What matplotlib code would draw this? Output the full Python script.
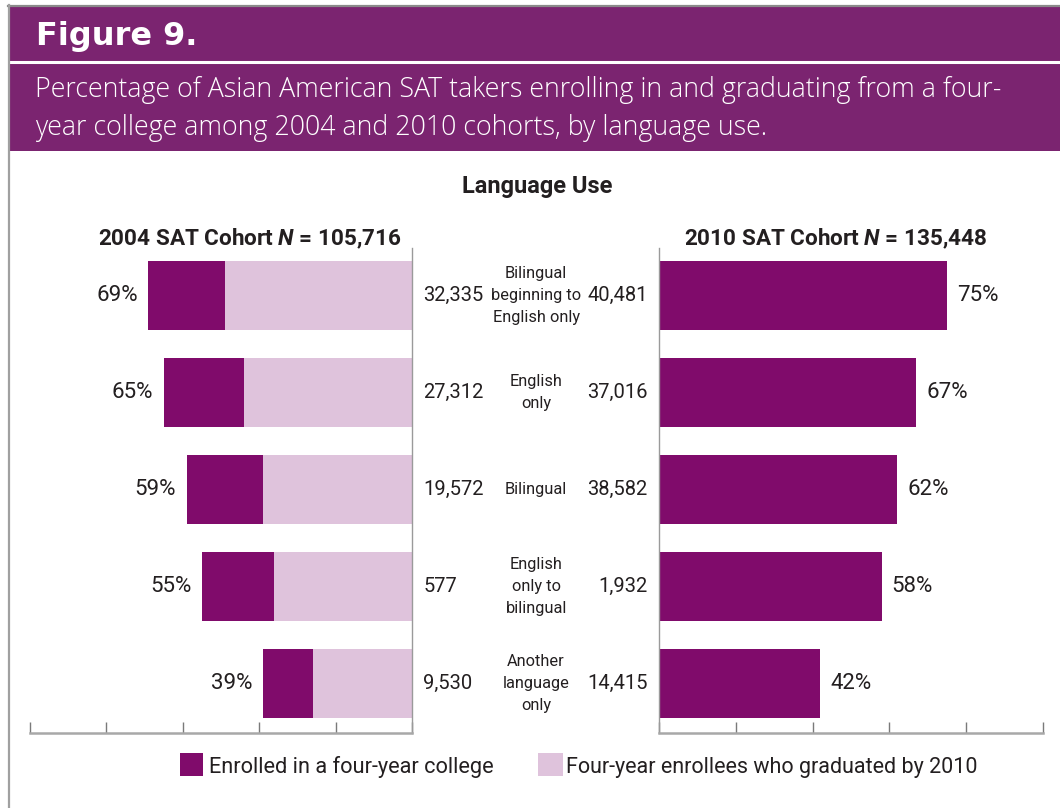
import matplotlib.pyplot as plt
from matplotlib.patches import Rectangle
from matplotlib.lines import Line2D

# data
languages = ["Bilingual\nbeginning to\nEnglish only", "English\nonly", "Bilingual",
             "English\nonly to\nbilingual", "Another\nlanguage\nonly"]
enrolled_2004 = [69, 65, 59, 55, 39]
graduated_2004 = [49, 44, 39, 36, 26]
n_2004 = ["32,335", "27,312", "19,572", "577", "9,530"]
enrolled_2010 = [75, 67, 62, 58, 42]
n_2010 = ["40,481", "37,016", "38,582", "1,932", "14,415"]
ticks = [0, 20, 40, 60, 80, 100]

W, H = 1060, 808
DARK = "#800b6b"
LIGHT = "#dfc3dc"
HEAD = "#7b2470"
INK = "#231f20"
NARROW = ["Roboto", "DejaVu Sans"]

plt.rcParams["mathtext.fontset"] = "custom"
plt.rcParams["mathtext.bfit"] = "Roboto:bold:italic"
plt.rcParams["mathtext.it"] = "Roboto:bold:italic"

fig = plt.figure(figsize=(W / 100, H / 100), dpi=100)


def px(x, y):
    return x / W, 1 - y / H


def box(x0, y0, x1, y1):
    return [x0 / W, 1 - y1 / H, (x1 - x0) / W, (y1 - y0) / H]


# frame and header band
fig.patches.append(Rectangle(px(9, 151), (W - 9) / W, 145 / H, transform=fig.transFigure,
                             facecolor=HEAD, edgecolor="none"))
fig.add_artist(Line2D([9 / W, 1], [1 - 61.5 / H] * 2, color="white", lw=2.2))
fig.add_artist(Line2D([8 / W, 1], [1 - 5.5 / H] * 2, color="#8a8a8a", lw=1.6))
fig.add_artist(Line2D([8.5 / W] * 2, [0, 1 - 5 / H], color="#a0a0a0", lw=1.6))

fig.text(*px(36, 37), "Figure 9.", color="white", fontsize=23, fontweight="bold",
         family="DejaVu Sans", va="center", ha="left")
fig.text(*px(35, 90), "Percentage of Asian American SAT takers enrolling in and graduating from a four-",
         color="white", fontsize=19.3, family="Open Sans", fontweight="light", va="center", ha="left")
fig.text(*px(35, 128), "year college among 2004 and 2010 cohorts, by language use.",
         color="white", fontsize=19.3, family="Open Sans", fontweight="light", va="center", ha="left")

rows = list(range(len(languages)))
ylim = (4 + 49.5 / 97, -47.5 / 97)
bar_h = 0.71

# 2004 cohort (left, mirrored)
axl = fig.add_axes(box(30, 248, 412, 733))
axl.barh(rows, graduated_2004, height=bar_h, color=LIGHT)
axl.barh(rows, [e - g for e, g in zip(enrolled_2004, graduated_2004)], left=graduated_2004,
         height=bar_h, color=DARK)
axl.set_xlim(100, 0)

# 2010 cohort (right)
axr = fig.add_axes(box(659, 248, 1043, 733))
axr.barh(rows, enrolled_2010, height=bar_h, color=DARK)
axr.set_xlim(0, 100)

for ax, side in [(axl, "right"), (axr, "left")]:
    ax.set_ylim(*ylim)
    ax.set_facecolor("none")
    for s in ["top", "left", "right", "bottom"]:
        ax.spines[s].set_visible(s in ("bottom", side))
    ax.spines["bottom"].set_color("#a8a8a8")
    ax.spines["bottom"].set_linewidth(1.8)
    ax.spines[side].set_color("#9a9a9a")
    ax.spines[side].set_linewidth(1.0)
    ax.set_xticks(ticks)
    ax.set_yticks([])
    ax.tick_params(axis="x", direction="in", length=8, width=1.0, color="#7a7a7a",
                   labelbottom=False)

for i in rows:
    axl.text(enrolled_2004[i] + 2.8, i, f"{enrolled_2004[i]}%", ha="right", va="center",
             fontsize=16, color=INK, family=NARROW)
    axl.text(-3.0, i, n_2004[i], ha="left", va="center", fontsize=14.5, color=INK, family=NARROW)
    axr.text(enrolled_2010[i] + 2.6, i, f"{enrolled_2010[i]}%", ha="left", va="center",
             fontsize=16, color=INK, family=NARROW)
    axr.text(-2.9, i, n_2010[i], ha="right", va="center", fontsize=14.5, color=INK, family=NARROW)
    axr.text(-32.0, i, languages[i], ha="center", va="center", fontsize=11.8, color=INK,
             family=NARROW, linespacing=1.6)

fig.text(*px(537, 187), "Language Use", ha="center", va="center", fontsize=17,
         fontweight="bold", color=INK, family=NARROW)
fig.text(*px(250, 239), r"2004 SAT Cohort $\mathit{N}$ = 105,716", ha="center", va="center",
         fontsize=16.2, fontweight="bold", color=INK, family=NARROW)
fig.text(*px(836, 239), r"2010 SAT Cohort $\mathit{N}$ = 135,448", ha="center", va="center",
         fontsize=16.2, fontweight="bold", color=INK, family=NARROW)

# legend
fig.patches.append(Rectangle(px(180, 776), 23 / W, 23 / H, transform=fig.transFigure,
                             facecolor=DARK, edgecolor="none"))
fig.patches.append(Rectangle(px(538, 776), 25 / W, 23 / H, transform=fig.transFigure,
                             facecolor=LIGHT, edgecolor="none"))
fig.text(*px(209, 767), "Enrolled in a four-year college", ha="left", va="center",
         fontsize=15.7, color=INK, family=NARROW)
fig.text(*px(566, 767), "Four-year enrollees who graduated by 2010", ha="left", va="center",
         fontsize=15.5, color=INK, family=NARROW)

fig.savefig("out.png", dpi=100)
